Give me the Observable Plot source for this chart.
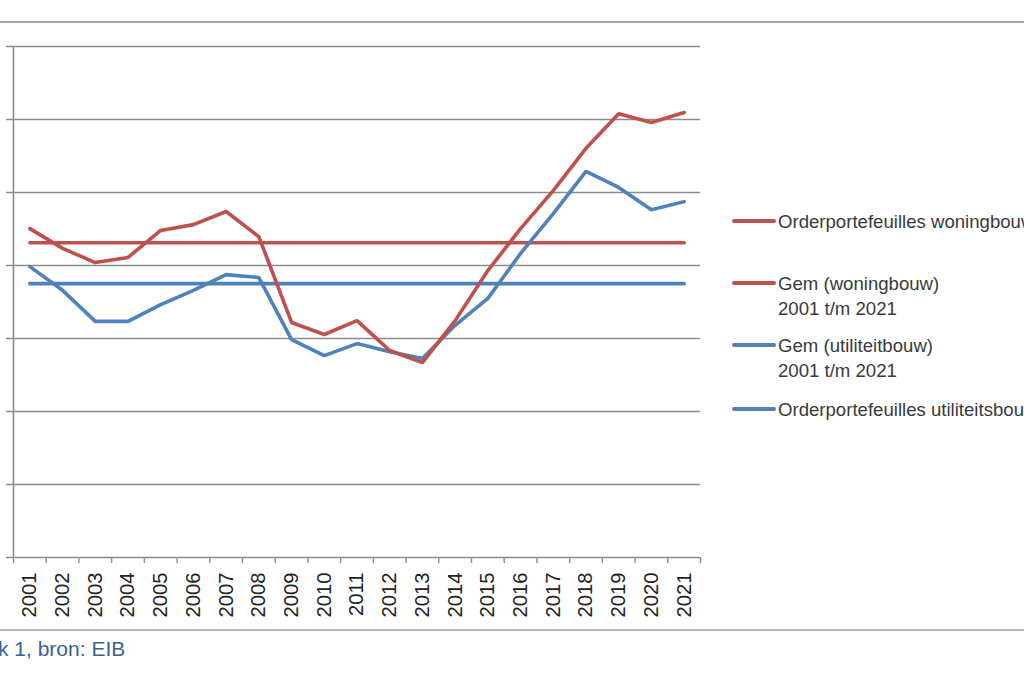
<!DOCTYPE html>
<html>
<head>
<meta charset="utf-8">
<script src="https://cdn.jsdelivr.net/npm/d3@7"></script>
<script src="https://cdn.jsdelivr.net/npm/@observablehq/plot@0.6"></script>
<style>
  html, body { margin: 0; padding: 0; background: #fff; }
  #wrap { position: relative; width: 1024px; height: 683px; overflow: hidden; font-family: "Liberation Sans", Arial, sans-serif; }
  #wrap svg { position: absolute; left: 0; top: 0; }
  .hline { position: absolute; left: 0; width: 1024px; height: 2px; background: #a8a8a8; }
  .leg { position: absolute; left: 732px; white-space: nowrap; font-size: 18.6px; color: #3a3a3a; line-height: 25px; }
  .leg .sw { position: absolute; left: 0; width: 44px; height: 4px; border-radius: 2px; }
  .leg .tx { position: absolute; left: 46px; top: 0; }
  #caption { position: absolute; left: -2px; top: 637px; font-size: 21px; color: #3b5f91; white-space: nowrap; }
</style>
</head>
<body>
<div id="wrap">
  <div class="hline" style="top:21px"></div>
  <div class="hline" style="top:629px; height:2px; background:#b4b4b4"></div>
  <div id="caption">k 1, bron: EIB</div>
  <div id="legend"></div>
</div>
<script>
const years = [2001,2002,2003,2004,2005,2006,2007,2008,2009,2010,2011,2012,2013,2014,2015,2016,2017,2018,2019,2020,2021];
const woningbouw = [9.01,8.47,8.08,8.22,8.96,9.12,9.48,8.79,6.44,6.11,6.49,5.67,5.34,6.49,7.86,9.01,10.05,11.21,12.16,11.92,12.19];
const utiliteitsbouw = [7.97,7.32,6.47,6.47,6.93,7.32,7.75,7.67,5.97,5.53,5.86,5.64,5.45,6.36,7.10,8.33,9.42,10.58,10.14,9.53,9.75];
const gridValues = [0,2,4,6,8,10,12,14];
const legendLabels = [
  "Orderportefeuilles woningbouw",
  "Gem (woningbouw)<br>2001 t/m 2021",
  "Gem (utiliteitbouw)<br>2001 t/m 2021",
  "Orderportefeuilles utiliteitsbouw"
];

const RED = "#c0504d", BLUE = "#4f81bd", GRID = "#8c8c8c";

const woning = years.map((y, i) => ({year: y, v: woningbouw[i]}));
const util = years.map((y, i) => ({year: y, v: utiliteitsbouw[i]}));
const meanW = d3.mean(woningbouw), meanU = d3.mean(utiliteitsbouw);
const meanWRows = [{year: years[0], v: meanW}, {year: years[years.length-1], v: meanW}];
const meanURows = [{year: years[0], v: meanU}, {year: years[years.length-1], v: meanU}];
const bounds = [years[0] - 0.5, ...years.map(y => y + 0.5)];

const chart = Plot.plot({
  width: 1024, height: 683,
  marginLeft: 13, marginRight: 324, marginTop: 46, marginBottom: 126,
  x: {domain: [bounds[0], bounds[bounds.length-1]], axis: null},
  y: {domain: [0, 14], axis: null},
  style: {fontFamily: "Liberation Sans, Arial, sans-serif", background: "transparent"},
  marks: [
    Plot.ruleY(gridValues, {stroke: GRID, strokeWidth: 1.6, insetLeft: -7}),
    Plot.ruleX([bounds[0]], {y1: 0, y2: 14, stroke: GRID, strokeWidth: 1.6}),
    Plot.ruleX(bounds, {y1: 0, y2: 0, insetBottom: -6, stroke: GRID, strokeWidth: 1.4}),
    Plot.text(years, {x: d => d, y: 0, text: d => String(d), rotate: -90, textAnchor: "end", lineAnchor: "middle", dy: 15, fontSize: 20.2, fill: "#222"}),
    Plot.line(meanWRows, {x: "year", y: "v", stroke: RED, strokeWidth: 3.6}),
    Plot.line(meanURows, {x: "year", y: "v", stroke: BLUE, strokeWidth: 3.6}),
    Plot.line(util, {x: "year", y: "v", stroke: BLUE, strokeWidth: 3.6, strokeLinejoin: "miter"}),
    Plot.line(woning, {x: "year", y: "v", stroke: RED, strokeWidth: 3.6, strokeLinejoin: "miter"})
  ]
});
document.getElementById("wrap").prepend(chart);

const legendColors = [RED, RED, BLUE, BLUE];
const legendTops = [221, 283, 345, 409];
const legend = document.getElementById("legend");
legendLabels.forEach((lab, i) => {
  const d = document.createElement("div");
  d.className = "leg";
  d.style.top = (legendTops[i] - 12.5) + "px";
  d.innerHTML = `<div class="sw" style="top:10.5px;background:${legendColors[i]}"></div><div class="tx">${lab}</div>`;
  legend.appendChild(d);
});
</script>
</body>
</html>
